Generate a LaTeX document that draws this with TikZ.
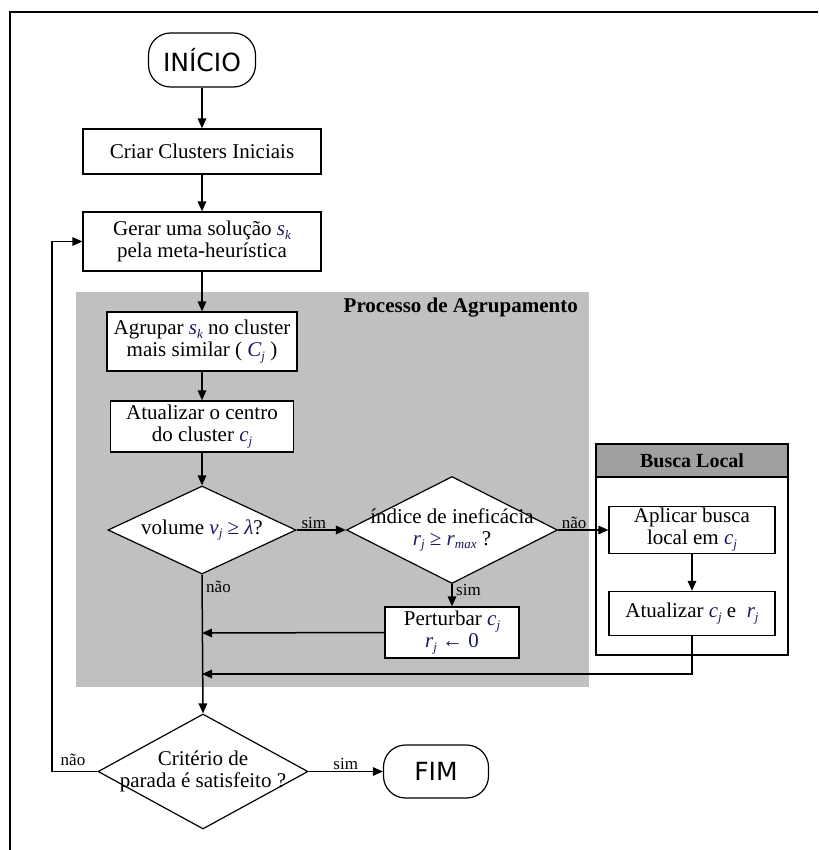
\documentclass[tikz,border=0pt]{standalone}
\usepackage{fontspec}
\setmainfont{Liberation Serif}
\newfontfamily\termfont{DejaVu Sans}
\usetikzlibrary{arrows.meta,shapes.geometric}
\definecolor{mathc}{RGB}{25,25,95}
\definecolor{grayreg}{RGB}{192,192,192}
\definecolor{hdr}{RGB}{160,160,160}
\newcommand\mi[1]{\textcolor{mathc}{\itshape #1}}
\newcommand\msub[1]{\textcolor{mathc}{\raisebox{-0.4ex}{\fontsize{13}{13}\selectfont\itshape #1}}}
\newcommand\mop[1]{\textcolor{mathc}{#1}}
\tikzset{
  boxn/.style={draw, fill=white, line width=1.2pt, inner sep=0pt, align=center,
    font=\fontsize{21}{22}\selectfont},
  term/.style={draw, fill=white, line width=1.2pt, inner sep=0pt, rounded corners=22pt,
    font=\termfont\fontsize{25}{26}\selectfont},
  diam/.style={draw, fill=white, diamond, line width=1.2pt, inner sep=0pt},
  txt/.style={align=center, inner sep=0pt, font=\fontsize{21}{22}\selectfont},
  lbl/.style={inner sep=1pt, font=\fontsize{17}{18}\selectfont},
  conn/.style={line width=1.5pt},
  arr/.style={line width=1.5pt, -{Triangle[length=10pt,width=8.5pt]}},
}
\begin{document}
\begin{tikzpicture}[x=1pt,y=-1pt]
\useasboundingbox (0,0) rectangle (818,850);
% frame
\draw[line width=2pt] (10,850) -- (10,12) -- (818,12);
% grouping region
\fill[grayreg] (76,292) rectangle (589,687);
\node[anchor=east, inner sep=0pt, font=\bfseries\fontsize{21}{22}\selectfont] (proc) at (578,308) {Processo de Agrupamento};
% local search container
\node[draw, fill=white, line width=1.2pt, minimum width=192, minimum height=211, inner sep=0pt] (blbox) at (692,549.5) {};
\node[draw, fill=hdr, line width=1.2pt, minimum width=192, minimum height=33, inner sep=0pt,
  font=\bfseries\fontsize{20}{22}\selectfont] (blhead) at (692,460.5) {Busca Local};

% nodes
\node[term, minimum width=107, minimum height=54] (ini) at (202,60) {INÍCIO};
\node[boxn, minimum width=238, minimum height=45] (criar) at (202,151.5) {Criar Clusters Iniciais};
\node[boxn, minimum width=238, minimum height=59] (gerar) at (202,241.5) {Gerar uma solução \mi{s}\msub{k}\\pela meta-heurística};
\node[boxn, minimum width=190, minimum height=59] (agr) at (202,341.5) {Agrupar \mi{s}\msub{k} no cluster\\mais similar ( \mi{C}\msub{j} )};
\node[boxn, minimum width=183, minimum height=51] (atu) at (202,426.5) {Atualizar o centro\\do cluster \mi{c}\msub{j}};
\node[diam, minimum width=188, minimum height=88] (d1) at (202,530) {};
\node[txt] (d1t) at (d1.center) {volume \mi{v}\msub{j} \mop{≥} \mi{λ}?};
\node[diam, minimum width=211, minimum height=107] (d2) at (452,530) {};
\node[txt] (d2t) at (d2.center) {índice de ineficácia\\\mi{r}\msub{j} \mop{≥} \mi{r}\msub{max} ?};
\node[boxn, minimum width=134, minimum height=51] (pert) at (452,632.5) {Perturbar \mi{c}\msub{j}\\\mi{r}\msub{j} \mop{←} \mop{0}};
\node[boxn, minimum width=166, minimum height=47] (apl) at (692,530) {Aplicar busca\\local em \mi{c}\msub{j}};
\node[boxn, minimum width=166, minimum height=44] (atu2) at (692,613.5) {Atualizar \mi{c}\msub{j} e \ \mi{r}\msub{j}};
\node[diam, minimum width=210, minimum height=115] (crit) at (203,771.5) {};
\node[txt] (critt) at (crit.center) {Critério de\\parada é satisfeito ?};
\node[term, minimum width=105, minimum height=53] (fim) at (436,771.5) {FIM};

\coordinate (m1) at (202,633);
\coordinate (m2) at (202,674);
\coordinate (lp) at (52,771.5);

% connectors
\draw[arr] (ini) -- (criar);
\draw[arr] (criar) -- (gerar);
\draw[arr] (gerar) -- (agr);
\draw[arr] (agr) -- (atu);
\draw[arr] (atu) -- (d1);
\draw[arr] (d1.east) -- node[lbl, above, pos=0.35] (l1) {sim} (d2.west);
\draw[arr] (d2.east) -- node[lbl, above, pos=0.32] (l2) {não} (apl.west);
\draw[arr] (d2.south) -- (pert.north);
\node[lbl, anchor=west] (l3) at (455,590) {sim};
\draw[arr] (apl) -- (atu2);
\draw[arr] (pert.west) -- (m1);
\draw[arr] (atu2.south) -- (atu2.south |- m2) -- (m2);
\draw[arr] (d1.south) -- (crit.north);
\node[lbl, anchor=west] (l4) at (205,587) {não};
\draw[arr] (crit.east) -- node[lbl, above, pos=0.5] (l5) {sim} (fim.west);
\draw[arr] (crit.west) -- (lp) |- (gerar.west);
\node[lbl] (l6) at (73,760) {não};
\end{tikzpicture}
\end{document}
